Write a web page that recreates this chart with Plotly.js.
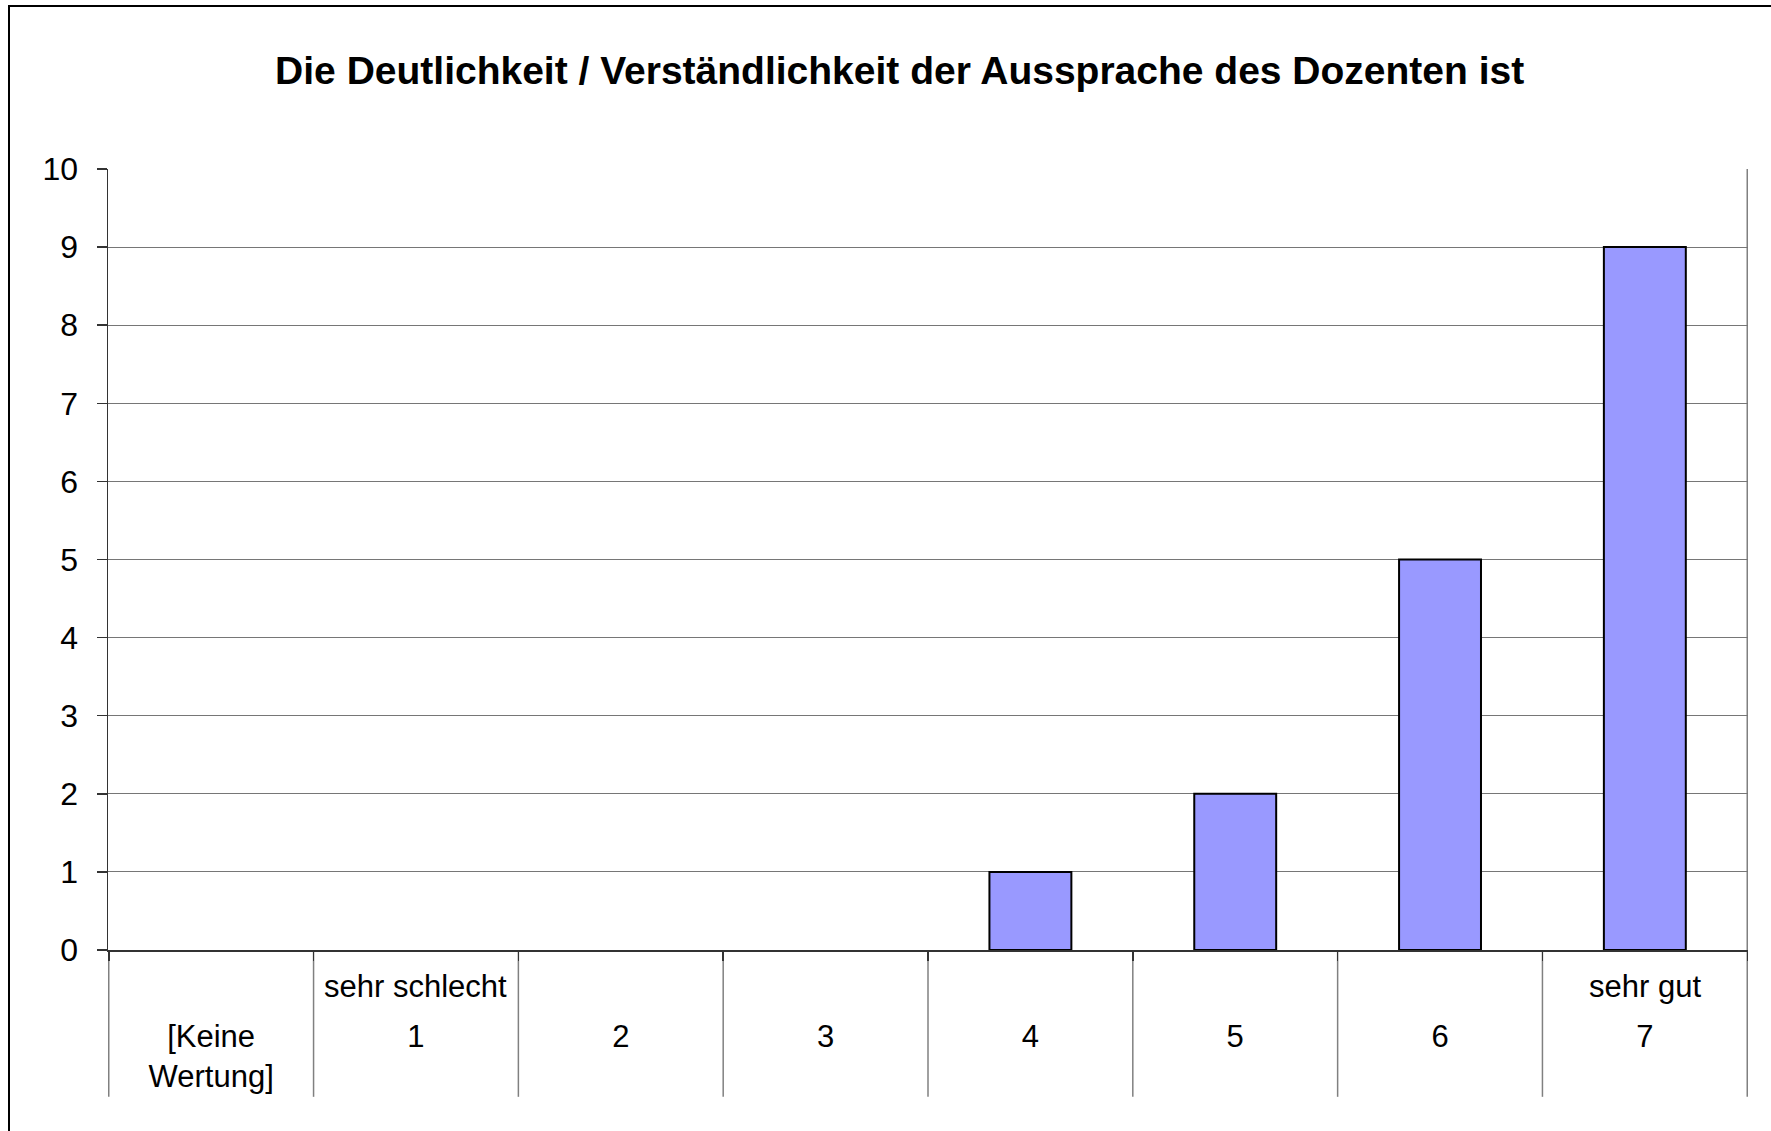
<!DOCTYPE html>
<html>
<head>
<meta charset="utf-8">
<script src="https://cdn.plot.ly/plotly-3.0.1.min.js"></script>
<style>
  html, body { margin: 0; padding: 0; background: #ffffff; overflow: hidden; }
  #wrap { position: relative; width: 1771px; height: 1131px; overflow: hidden; }
  #chart { position: absolute; left: 0; top: 0; width: 1771px; height: 1131px; }
  #frame { position: absolute; left: 8px; top: 5px; width: 1800px; height: 1200px;
           border: 2px solid #000; pointer-events: none; z-index: 5; }
</style>
</head>
<body>
<div id="wrap">
  <div id="chart"></div>
  <div id="frame"></div>
</div>
<script>
// ---- data ----
const categories = ["[Keine Wertung]", "1", "2", "3", "4", "5", "6", "7"];
const tickLabels = ["[Keine<br>Wertung]", "1", "2", "3", "4", "5", "6", "7"];
const scaleLabels = ["", "sehr schlecht", "", "", "", "", "", "sehr gut"];
const counts = [0, 0, 0, 0, 1, 2, 5, 9];
const chartTitle = "Die Deutlichkeit / Verständlichkeit der Aussprache des Dozenten ist";

const FONT = "Liberation Sans, Arial, sans-serif";

const trace = {
  type: "bar",
  x: categories,
  y: counts,
  marker: {
    color: "#9999FF",
    line: { color: "#000000", width: counts.map(v => (v > 0 ? 2 : 0)) }
  },
  hoverinfo: "x+y"
};

// category separators below the axis (and right plot edge)
const shapes = [];
for (let i = 0; i <= categories.length; i++) {
  shapes.push({
    type: "line", xref: "x", yref: "paper",
    x0: i - 0.5, x1: i - 0.5,
    y0: -0.188, y1: (i === categories.length ? 1 : 0),
    line: { color: "#808080", width: 1.5 }, layer: "below"
  });
}

const annotations = [];
scaleLabels.forEach((t, i) => {
  if (!t) return;
  annotations.push({
    xref: "x", yref: "paper", x: categories[i], y: 0,
    yanchor: "middle", xanchor: "center", yshift: -36,
    text: t, showarrow: false,
    font: { family: FONT, size: 31, color: "#000" }
  });
});

const layout = {
  width: 1771, height: 1131,
  margin: { l: 108, r: 23, t: 169, b: 181, pad: 0 },
  paper_bgcolor: "#ffffff", plot_bgcolor: "#ffffff",
  showlegend: false,
  bargap: 0.6,
  title: {
    text: "<b>" + chartTitle + "</b>",
    font: { family: FONT, size: 39, color: "#000" },
    x: 0.508, xanchor: "center", xref: "container",
    y: 1 - 70 / 1131, yanchor: "middle", yref: "container"
  },
  xaxis: {
    type: "category",
    tickmode: "array", tickvals: categories, ticktext: tickLabels,
    tickson: "boundaries",
    ticks: "outside", ticklen: 9, tickwidth: 1.5, tickcolor: "#333",
    ticklabelstandoff: 58,
    showgrid: false, zeroline: false,
    showline: true, linecolor: "#333", linewidth: 1.5,
    tickfont: { family: FONT, size: 31, color: "#000" },
    fixedrange: true
  },
  yaxis: {
    range: [0, 10], dtick: 1, tick0: 0,
    showgrid: true, gridcolor: "#767676", gridwidth: 1,
    zeroline: false,
    showline: true, linecolor: "#333", linewidth: 1.5,
    ticks: "outside", ticklen: 10, tickwidth: 1.5, tickcolor: "#333",
    ticklabelstandoff: 12,
    tickfont: { family: FONT, size: 32, color: "#000" },
    fixedrange: true
  },
  shapes: shapes,
  annotations: annotations
};

Plotly.newPlot("chart", [trace], layout, { displayModeBar: false, staticPlot: true });
</script>
</body>
</html>
